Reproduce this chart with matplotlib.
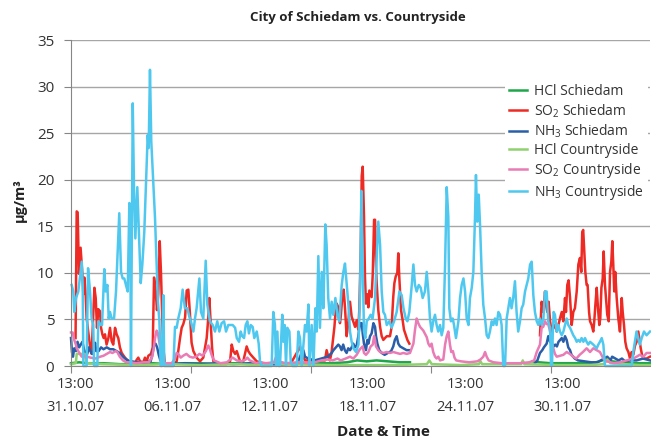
import numpy as np
import matplotlib
matplotlib.use('Agg')
import matplotlib.pyplot as plt

plt.rcParams['font.family'] = ['Open Sans', 'DejaVu Sans']
plt.rcParams['mathtext.fontset'] = 'custom'
plt.rcParams['mathtext.rm'] = 'Open Sans'

nan = np.nan

# (days since 31.10.07 13:00, ug/m3)
hcl_schiedam = [(0.0, 0.3), (0.5, 0.4), (1.0, 0.3), (2.0, 0.3), (3.0, 0.2), (4.0, 0.2), (5.0, 0.3), (6.0, 0.2),
                (7.0, 0.3), (8.0, 0.3), (9.0, 0.2), (10.0, 0.3), (11.0, 0.2), (12.0, 0.2), (13.0, 0.3), (14.0, 0.3),
                (15.0, 0.3), (16.0, 0.3), (17.0, 0.4), (17.6, 0.6), (18.2, 0.5), (18.8, 0.6), (19.5, 0.5), (20.2, 0.4),
                (20.86, 0.4), (24.0, nan), (28.4, 0.5), (28.8, 0.4), (29.5, 0.3), (30.5, 0.3), (31.5, 0.3), (32.3, 0.4),
                (32.7, 0.6), (33.0, 0.8), (33.3, 0.5), (33.8, 0.4), (34.5, 0.3), (35.63, 0.3)]

so2_schiedam = [(0.28, 3.0), (0.35, 16.6), (0.41, 16.5), (0.49, 9.9), (0.59, 12.7), (0.70, 9.9), (0.76, 7.7),
                (0.82, 9.5), (0.90, 7.7), (0.96, 5.2), (1.03, 4.1), (1.11, 3.0), (1.21, 1.6), (1.27, 1.3), (1.38, 5.9),
                (1.44, 8.4), (1.52, 7.3), (1.60, 4.1), (1.68, 6.1), (1.78, 5.9), (1.85, 4.1), (1.93, 3.4), (2.01, 3.0),
                (2.09, 3.4), (2.19, 2.3), (2.30, 3.0), (2.40, 4.1), (2.50, 2.7), (2.60, 2.3), (2.71, 4.1), (2.81, 3.4),
                (2.91, 3.0), (3.01, 2.0), (3.12, 1.4), (3.32, 0.9), (3.43, 0.7), (3.63, 0.4), (3.73, 0.5), (3.94, 0.4),
                (4.14, 0.9), (4.25, 0.5), (4.45, 0.4), (4.55, 0.9), (4.66, 0.5), (4.76, 1.1), (4.92, 1.3), (5.03, 2.0),
                (5.11, 9.5), (5.21, 8.1), (5.29, 6.0), (5.37, 7.7), (5.46, 13.4), (5.54, 9.9), (5.62, 4.8), (5.68, 2.0),
                (5.78, 0.2), (6.30, 0.1), (6.50, 0.5), (6.60, 1.6), (6.71, 3.0), (6.81, 4.1), (6.91, 4.5), (7.02, 5.2),
                (7.12, 8.1), (7.22, 8.2), (7.32, 5.6), (7.42, 2.5), (7.53, 1.6), (7.73, 0.9), (7.94, 0.5), (8.14, 0.9),
                (8.35, 3.0), (8.45, 5.2), (8.51, 7.3), (8.59, 4.8), (8.68, 2.0), (8.76, 0.5), (9.17, 0.2), (9.58, 0.2),
                (9.79, 0.5), (9.89, 2.3), (9.99, 1.6), (10.1, 1.3), (10.2, 1.6), (10.4, 0.5), (10.6, 0.5), (10.81, 2.1),
                (10.91, 1.6), (11.02, 1.3), (11.22, 0.9), (11.43, 0.5), (11.63, 0.4), (12.0, 0.2), (13.5, 0.2),
                (13.99, 1.7), (14.09, 2.1), (14.2, 1.4), (14.4, 0.6), (14.8, 0.6), (15.2, 0.6), (15.63, 0.6),
                (15.73, 1.7), (15.83, 1.0), (15.93, 0.6), (16.03, 1.4), (16.13, 3.0), (16.21, 4.2), (16.29, 6.0),
                (16.35, 6.7), (16.45, 6.3), (16.55, 4.6), (16.6, 5.3), (16.7, 7.5), (16.78, 8.2), (16.86, 6.3),
                (16.96, 3.2), (17.06, 4.6), (17.17, 6.9), (17.27, 5.3), (17.48, 4.2), (17.58, 4.9), (17.68, 3.9),
                (17.74, 6.0), (17.83, 12.5), (17.89, 20.4), (17.95, 21.4), (18.03, 16.1), (18.09, 9.6), (18.15, 6.7),
                (18.24, 7.7), (18.3, 6.3), (18.36, 8.1), (18.44, 7.7), (18.5, 7.4), (18.57, 9.9), (18.65, 15.7),
                (18.71, 15.7), (18.77, 10.6), (18.81, 8.9), (18.91, 6.0), (19.02, 4.2), (19.12, 3.2), (19.22, 2.8),
                (19.43, 3.2), (19.63, 3.2), (19.73, 4.2), (19.83, 7.4), (19.9, 8.9), (19.98, 9.6), (20.08, 10.0),
                (20.14, 12.1), (20.2, 9.6), (20.25, 7.9), (20.31, 6.0), (20.41, 4.9), (20.49, 3.9), (20.62, 3.2),
                (20.7, 2.8), (20.82, 2.4), (24.0, nan), (28.86, 3.3), (28.96, 6.9), (29.06, 5.8), (29.17, 8.0),
                (29.23, 6.6), (29.31, 5.8), (29.39, 6.9), (29.48, 4.8), (29.58, 3.7), (29.68, 4.1), (29.78, 4.4),
                (29.89, 3.7), (29.99, 4.4), (30.09, 5.1), (30.2, 5.8), (30.3, 4.8), (30.4, 7.3), (30.46, 5.8),
                (30.54, 8.7), (30.62, 9.2), (30.71, 7.3), (30.81, 4.4), (30.91, 5.8), (31.01, 6.2), (31.12, 8.0),
                (31.22, 10.9), (31.32, 11.6), (31.4, 10.1), (31.46, 14.4), (31.52, 14.6), (31.58, 12.6), (31.65, 10.1),
                (31.73, 8.7), (31.79, 8.7), (31.88, 5.8), (31.94, 4.8), (32.04, 4.4), (32.14, 3.7), (32.2, 4.8),
                (32.27, 6.6), (32.35, 8.4), (32.43, 6.2), (32.51, 4.4), (32.57, 5.1), (32.64, 8.4), (32.72, 9.4),
                (32.78, 12.3), (32.86, 8.7), (32.92, 7.3), (33.0, 5.5), (33.09, 4.8), (33.17, 10.1), (33.25, 11.2),
                (33.31, 13.4), (33.37, 10.9), (33.43, 8.0), (33.49, 10.1), (33.58, 7.3), (33.68, 5.1), (33.78, 3.7),
                (33.89, 7.3), (33.95, 5.8), (34.03, 4.4), (34.11, 2.6), (34.19, 1.9), (34.3, 1.5), (34.4, 0.8),
                (34.5, 1.5), (34.6, 1.2), (34.71, 2.2), (34.81, 2.6), (34.91, 3.7), (34.97, 3.0), (35.06, 1.9),
                (35.14, 1.2), (35.22, 0.8), (35.42, 0.8), (35.63, 1.0)]

nh3_schiedam = [(0.0, 3.0), (0.06, 1.5), (0.12, 1.0), (0.2, 1.9), (0.3, 1.6), (0.4, 2.6), (0.5, 2.0), (0.6, 2.3),
                (0.7, 2.6), (0.8, 1.8), (0.9, 1.3), (1.0, 1.3), (1.1, 2.0), (1.2, 1.6), (1.3, 1.3), (1.4, 1.6),
                (1.48, 2.5), (1.55, 1.6), (1.7, 1.6), (1.85, 2.0), (2.0, 1.8), (2.2, 2.0), (2.4, 1.8), (2.6, 1.8),
                (2.8, 1.6), (3.0, 1.4), (3.2, 1.0), (3.4, 0.7), (3.6, 0.5), (4.0, 0.4), (4.5, 0.4), (4.9, 0.5),
                (5.0, 1.2), (5.1, 2.2), (5.2, 2.4), (5.3, 2.0), (5.4, 1.2), (5.5, 0.6), (5.7, 0.3), (6.0, 0.2),
                (7.0, 0.3), (8.0, 0.2), (9.0, 0.3), (10.0, 0.2), (11.0, 0.3), (12.0, 0.2), (13.0, 0.2), (13.9, 0.3),
                (14.0, 0.6), (14.19, 1.4), (14.3, 1.7), (14.4, 1.0), (14.6, 0.8), (15.0, 0.6), (15.4, 0.8),
                (15.8, 1.0), (16.04, 1.4), (16.15, 1.7), (16.25, 1.9), (16.35, 2.1), (16.45, 2.3), (16.55, 2.1),
                (16.65, 1.7), (16.75, 2.3), (16.85, 1.7), (16.96, 1.4), (17.06, 1.9), (17.17, 1.7), (17.27, 2.0),
                (17.37, 2.4), (17.47, 2.0), (17.58, 2.2), (17.68, 3.2), (17.78, 4.6), (17.89, 4.6), (17.95, 3.5),
                (18.03, 2.4), (18.15, 1.7), (18.24, 2.8), (18.3, 2.4), (18.4, 3.2), (18.5, 3.5), (18.61, 4.6),
                (18.71, 4.2), (18.77, 3.2), (18.85, 2.4), (18.97, 1.7), (19.12, 1.4), (19.3, 1.2), (19.5, 1.4),
                (19.7, 1.6), (19.83, 2.1), (19.93, 2.8), (20.04, 3.2), (20.14, 2.4), (20.25, 2.1), (20.45, 1.9),
                (20.65, 1.7), (20.86, 1.7), (24.0, nan), (28.55, 0.3), (28.7, 0.6), (28.86, 1.4), (29.0, 1.7),
                (29.1, 2.0), (29.27, 2.4), (29.37, 3.2), (29.48, 2.6), (29.58, 2.4), (29.7, 2.1), (29.8, 2.3),
                (29.9, 2.1), (30.0, 2.6), (30.2, 3.0), (30.3, 2.6), (30.4, 3.2), (30.5, 2.8), (30.6, 2.0),
                (30.71, 1.7), (30.8, 1.2), (31.0, 0.8), (31.2, 0.6), (31.6, 0.5), (32.0, 0.4), (32.4, 0.4),
                (32.6, 0.6), (32.8, 0.8), (33.0, 1.0), (33.1, 0.8), (33.2, 0.6), (33.3, 1.0), (33.5, 0.8),
                (33.7, 0.6), (33.9, 0.8), (34.1, 0.5), (34.4, 0.6), (34.8, 0.6), (35.2, 0.8), (35.63, 0.6)]

hcl_countryside = [(0.0, 0.2), (0.3, 0.3), (0.35, 1.3), (0.85, 1.3), (0.95, 0.3), (2.0, 0.2), (4.0, 0.1), (6.0, 0.2),
                   (8.0, 0.1), (10.0, 0.2), (12.0, 0.1), (12.6, 0.4), (13.0, 0.2), (16.0, 0.1), (18.0, 0.1),
                   (20.0, 0.1), (21.9, 0.2), (22.05, 0.6), (22.2, 0.2), (24.0, 0.1), (25.1, 0.2), (25.2, 0.5),
                   (25.3, 0.2), (27.7, 0.2), (27.8, 0.6), (27.9, 0.2), (30.0, 0.1), (32.0, 0.1), (32.8, 0.2),
                   (33.0, 0.7), (33.2, 0.3), (35.0, 0.1), (35.63, 0.1)]

so2_countryside = [(0.0, 3.6), (0.1, 3.6), (0.2, 2.8), (0.3, 2.3), (0.35, 1.9), (0.45, 1.6), (0.55, 1.3), (0.66, 1.0),
                   (0.8, 1.2), (0.9, 0.9), (1.0, 1.0), (1.2, 0.9), (1.5, 0.8), (1.8, 1.0), (2.0, 1.1), (2.2, 1.3),
                   (2.4, 1.5), (2.55, 1.4), (2.75, 1.6), (2.85, 1.5), (3.0, 1.0), (3.2, 0.6), (3.4, 0.4), (3.6, 0.4),
                   (4.0, 0.3), (4.5, 0.4), (4.8, 0.4), (5.0, 1.0), (5.1, 2.0), (5.17, 3.0), (5.27, 3.8), (5.35, 3.5),
                   (5.45, 2.4), (5.55, 1.3), (5.65, 0.6), (5.8, 0.3), (6.2, 0.3), (6.4, 0.8), (6.5, 1.4), (6.6, 1.3),
                   (6.75, 0.9), (6.9, 1.1), (7.1, 1.3), (7.3, 1.0), (7.5, 0.9), (7.7, 1.0), (7.9, 1.3), (8.1, 1.1),
                   (8.3, 1.6), (8.45, 2.2), (8.55, 1.8), (8.65, 1.2), (8.8, 0.6), (9.2, 0.3), (9.6, 0.4), (9.8, 0.7),
                   (9.95, 0.9), (10.2, 0.6), (10.5, 0.5), (10.75, 0.7), (10.85, 0.9), (11.0, 0.6), (11.4, 0.3),
                   (11.63, 0.4), (12.0, 0.3), (12.5, 0.4), (12.62, 1.0), (12.75, 0.5), (13.2, 0.3), (14.0, 0.4),
                   (14.3, 0.4), (14.6, 0.3), (15.0, 0.4), (15.4, 0.6), (15.8, 0.7), (16.1, 0.6), (16.4, 0.8),
                   (16.6, 0.6), (16.9, 0.8), (17.17, 1.0), (17.37, 0.8), (17.58, 1.2), (17.74, 1.7), (17.83, 1.9),
                   (17.95, 2.1), (18.03, 1.4), (18.15, 1.2), (18.3, 1.5), (18.44, 2.1), (18.57, 2.3), (18.65, 3.2),
                   (18.71, 2.8), (18.77, 2.1), (18.91, 1.7), (19.02, 1.5), (19.22, 1.4), (19.43, 1.5), (19.63, 1.4),
                   (19.83, 1.5), (20.04, 1.4), (20.25, 1.3), (20.45, 1.4), (20.66, 1.3), (20.86, 1.4), (21.07, 2.4),
                   (21.17, 3.9), (21.27, 5.1), (21.37, 4.6), (21.48, 4.2), (21.58, 4.0), (21.68, 3.8), (21.89, 3.1),
                   (21.99, 2.4), (22.09, 2.1), (22.19, 2.4), (22.29, 1.5), (22.4, 1.0), (22.5, 0.8), (22.6, 1.0),
                   (22.71, 0.6), (22.91, 0.7), (23.02, 2.3), (23.12, 3.2), (23.22, 3.7), (23.32, 2.3), (23.4, 1.5),
                   (23.5, 1.6), (23.6, 0.9), (23.7, 0.6), (24.0, 0.5), (24.5, 0.4), (25.0, 0.5), (25.2, 0.7),
                   (25.37, 1.0), (25.48, 1.5), (25.58, 1.0), (25.7, 0.6), (26.0, 0.4), (26.5, 0.3), (27.0, 0.3),
                   (27.6, 0.3), (28.2, 0.4), (28.5, 0.6), (28.66, 1.5), (28.86, 2.3), (28.96, 4.1), (29.06, 4.2),
                   (29.17, 4.8), (29.27, 4.5), (29.37, 4.5), (29.48, 3.7), (29.58, 2.6), (29.68, 1.9), (29.78, 1.3),
                   (29.89, 1.0), (30.1, 1.1), (30.3, 1.2), (30.5, 1.5), (30.7, 1.3), (30.9, 1.0), (31.1, 0.8),
                   (31.3, 1.2), (31.5, 1.5), (31.73, 1.9), (31.94, 1.5), (32.14, 1.9), (32.35, 1.7), (32.55, 1.5),
                   (32.76, 0.8), (32.96, 0.5), (33.4, 0.3), (33.8, 0.4), (34.2, 0.6), (34.6, 0.8), (34.81, 1.0),
                   (35.0, 1.2), (35.22, 1.0), (35.42, 1.4), (35.63, 1.4)]

nh3_countryside = [(0.04, 8.7), (0.14, 8.0), (0.20, 5.8), (0.31, 7.3), (0.45, 8.0), (0.59, 10.1), (0.66, 11.2),
                   (0.72, 8.7), (0.76, 0.0), (0.96, 0.0), (1.05, 10.5), (1.17, 8.0), (1.27, 5.1), (1.37, 4.4),
                   (1.42, 0.0), (1.62, 0.0), (1.68, 4.8), (1.83, 4.4), (1.91, 4.4), (2.05, 10.4), (2.13, 8.0),
                   (2.24, 8.7), (2.32, 5.1), (2.40, 5.8), (2.5, 5.1), (2.65, 5.1), (2.77, 8.0), (2.87, 12.3),
                   (2.97, 16.4), (3.08, 10.1), (3.18, 9.4), (3.28, 9.4), (3.38, 8.7), (3.49, 8.0), (3.59, 17.5),
                   (3.65, 14.4), (3.69, 0.0), (3.80, 28.2), (3.88, 18.7), (3.96, 13.7), (4.08, 19.2), (4.18, 14.4),
                   (4.29, 8.9), (4.39, 10.9), (4.51, 14.4), (4.62, 19.8), (4.72, 24.8), (4.78, 23.4), (4.86, 31.8),
                   (4.94, 24.1), (5.05, 20.2), (5.17, 15.9), (5.27, 10.9), (5.35, 6.9), (5.44, 4.8), (5.52, 0.0),
                   (5.6, 0.0), (5.68, 7.6), (5.74, 0.0), (6.3, 0.0), (6.4, 4.2), (6.5, 4.1), (6.6, 5.1), (6.75, 6.2),
                   (6.87, 8.2), (7.01, 6.2), (7.16, 6.2), (7.28, 5.3), (7.38, 4.8), (7.53, 3.7), (7.63, 5.1),
                   (7.73, 6.2), (7.9, 9.4), (8.0, 5.8), (8.14, 5.1), (8.29, 11.3), (8.39, 6.6), (8.55, 4.8),
                   (8.72, 4.4), (8.86, 3.7), (9.0, 4.8), (9.13, 3.7), (9.27, 4.6), (9.42, 4.8), (9.54, 3.7),
                   (9.68, 4.4), (9.83, 4.4), (9.95, 4.4), (10.1, 4.1), (10.2, 3.0), (10.34, 2.6), (10.44, 3.7),
                   (10.54, 3.2), (10.65, 3.0), (10.75, 4.4), (10.85, 4.8), (10.95, 3.5), (11.06, 4.4), (11.18, 4.2),
                   (11.28, 3.0), (11.43, 3.7), (11.55, 2.4), (11.63, 0.5), (11.73, 0.0), (12.35, 0.0), (12.45, 5.8),
                   (12.55, 4.4), (12.62, 0.0), (12.7, 3.7), (12.78, 0.0), (12.86, 0.0), (13.0, 5.5), (13.07, 2.6),
                   (13.15, 4.4), (13.23, 0.0), (13.31, 4.1), (13.44, 3.7), (13.52, 0.5), (13.64, 0.0), (13.89, 0.0),
                   (13.99, 3.7), (14.09, 3.0), (14.2, 0.0), (14.4, 4.4), (14.5, 3.7), (14.61, 6.6), (14.67, 0.0),
                   (14.81, 4.4), (14.92, 0.0), (15.04, 6.2), (15.12, 3.7), (15.22, 11.8), (15.32, 4.1), (15.43, 10.1),
                   (15.53, 6.2), (15.65, 15.2), (15.73, 13.0), (15.83, 7.3), (15.94, 5.1), (16.04, 6.9), (16.14, 5.5),
                   (16.27, 7.3), (16.39, 5.5), (16.51, 4.8), (16.66, 8.7), (16.76, 10.1), (16.86, 11.0), (16.97, 8.7),
                   (17.07, 6.6), (17.17, 3.7), (17.27, 2.6), (17.38, 1.9), (17.54, 1.5), (17.69, 2.3), (17.79, 8.0),
                   (17.87, 18.8), (17.95, 10.9), (18.03, 3.7), (18.11, 3.0), (18.2, 4.8), (18.32, 5.1), (18.44, 5.5),
                   (18.56, 5.1), (18.71, 7.3), (18.81, 11.6), (18.91, 15.5), (19.02, 13.0), (19.12, 8.0), (19.22, 5.8),
                   (19.32, 5.5), (19.43, 4.4), (19.59, 4.8), (19.73, 4.1), (19.88, 4.8), (20.04, 5.8), (20.21, 8.0),
                   (20.35, 7.6), (20.46, 6.2), (20.6, 5.1), (20.7, 4.8), (20.82, 5.8), (20.97, 8.7), (21.07, 10.9),
                   (21.17, 8.7), (21.27, 8.0), (21.4, 8.7), (21.52, 8.4), (21.64, 7.3), (21.78, 8.0), (21.89, 10.1),
                   (21.99, 8.0), (22.09, 5.1), (22.19, 3.7), (22.29, 4.8), (22.4, 5.5), (22.5, 4.4), (22.6, 3.7),
                   (22.71, 4.4), (22.81, 3.3), (22.91, 4.1), (23.02, 10.9), (23.12, 19.2), (23.22, 16.0), (23.28, 6.2),
                   (23.38, 4.8), (23.49, 5.1), (23.57, 4.4), (23.69, 3.0), (23.84, 4.8), (23.94, 7.3), (24.04, 8.7),
                   (24.15, 9.4), (24.25, 8.0), (24.35, 5.1), (24.46, 4.4), (24.55, 7.3), (24.66, 8.4), (24.76, 10.1),
                   (24.86, 15.9), (24.92, 20.5), (25.0, 15.5), (25.09, 18.4), (25.17, 15.2), (25.27, 10.1),
                   (25.37, 6.6), (25.48, 5.1), (25.58, 3.3), (25.68, 3.0), (25.78, 3.7), (25.89, 4.8), (25.99, 4.4),
                   (26.09, 5.1), (26.19, 4.4), (26.3, 5.8), (26.4, 5.5), (26.5, 4.4), (26.6, 0.0), (26.71, 0.0),
                   (26.81, 5.1), (26.91, 6.2), (27.01, 7.3), (27.11, 6.2), (27.21, 7.3), (27.32, 9.1), (27.42, 5.8),
                   (27.52, 3.7), (27.63, 4.8), (27.73, 6.2), (27.83, 6.6), (27.94, 8.0), (28.04, 8.7), (28.14, 9.4),
                   (28.25, 10.9), (28.35, 11.2), (28.45, 7.6), (28.55, 5.8), (28.66, 4.8), (28.76, 4.4), (28.86, 5.1),
                   (28.96, 4.4), (29.07, 5.1), (29.17, 8.0), (29.27, 8.0), (29.37, 4.8), (29.48, 4.1), (29.54, 0.0),
                   (29.6, 0.0), (29.65, 3.7), (29.7, 5.8), (29.78, 5.5), (29.89, 3.7), (29.99, 4.4), (30.09, 3.7),
                   (30.2, 3.3), (30.3, 3.7), (30.4, 4.4), (30.5, 5.1), (30.6, 4.4), (30.71, 4.1), (30.81, 3.7),
                   (30.91, 3.3), (31.02, 3.0), (31.12, 2.6), (31.22, 2.8), (31.32, 2.6), (31.42, 3.0), (31.53, 2.6),
                   (31.63, 3.0), (31.73, 2.6), (31.83, 2.3), (31.94, 2.6), (32.14, 2.3), (32.35, 1.9), (32.45, 2.3),
                   (32.55, 2.6), (32.66, 3.0), (32.76, 2.3), (32.86, 0.0), (34.5, 0.0), (34.6, 1.5), (34.7, 2.6),
                   (34.8, 3.7), (34.9, 3.0), (35.0, 2.3), (35.12, 3.0), (35.26, 3.7), (35.42, 3.3), (35.63, 3.7)]

series = [
    ('HCl Schiedam', hcl_schiedam, '#1fa64a'),
    ('SO$_2$ Schiedam', so2_schiedam, '#ee2a24'),
    ('NH$_3$ Schiedam', nh3_schiedam, '#2b5ea8'),
    ('HCl Countryside', hcl_countryside, '#8fd16f'),
    ('SO$_2$ Countryside', so2_countryside, '#e97bb5'),
    ('NH$_3$ Countryside', nh3_countryside, '#4fc8f0'),
]

day_labels = ['31.10.07', '06.11.07', '12.11.07', '18.11.07', '24.11.07', '30.11.07']
label_step = 6
tick_step = 7.385
x_end = 35.63

fig = plt.figure(figsize=(6.51, 4.41), dpi=100)
ax = fig.add_axes([71 / 651, 1 - 366 / 441, (650 - 71) / 651, (366 - 40) / 441])

for label, pts, color in series:
    t, v = zip(*pts)
    ax.plot(t, v, color=color, lw=1.8, label=label, solid_joinstyle='round', clip_on=False)

ax.set_xlim(0, x_end)
ax.set_ylim(0, 35)
ax.set_yticks(range(0, 36, 5))
ax.yaxis.grid(True, color='#a6a6a6', lw=1)
ax.set_axisbelow(True)
for s in ['top', 'right']:
    ax.spines[s].set_visible(False)
for s in ['left', 'bottom']:
    ax.spines[s].set_color('#868686')

ax.set_xticks(np.arange(0, x_end, tick_step))
ax.set_xticklabels([])
ax.set_xticks([label_step * i + 0.25 for i in range(len(day_labels))], minor=True)
ax.set_xticklabels(['13:00\n' + d for d in day_labels], minor=True, fontsize=10.5, color='#333333',
                   linespacing=1.75)
ax.tick_params(axis='x', which='major', length=5, color='#868686')
ax.tick_params(axis='x', which='minor', length=0, pad=8)
ax.tick_params(axis='y', length=5, color='#868686', labelsize=11, labelcolor='#333333', pad=7)

leg = ax.legend(loc='upper left', bbox_to_anchor=(505 / 651, 1 - 80 / 441), bbox_transform=fig.transFigure,
                fontsize=10, labelspacing=0.22, handlelength=1.3, handletextpad=0.5, borderpad=0.3,
                borderaxespad=0, frameon=True, fancybox=False, framealpha=1)
leg.get_frame().set_edgecolor('none')
for txt in leg.get_texts():
    txt.set_color('#333333')

fig.text(358 / 651, 1 - 17 / 441, 'City of Schiedam vs. Countryside', ha='center', va='center',
         fontsize=9.5, fontweight='bold', color='#222222')
fig.text(383 / 651, 1 - 432 / 441, 'Date & Time', ha='center', va='center', fontsize=11,
         fontweight='bold', color='#222222')
fig.text(20 / 651, 1 - 200 / 441, 'µg/m³', ha='center', va='center', rotation=90, fontsize=10.5,
         fontweight='bold', color='#222222')

fig.savefig('out.png', dpi=100)
